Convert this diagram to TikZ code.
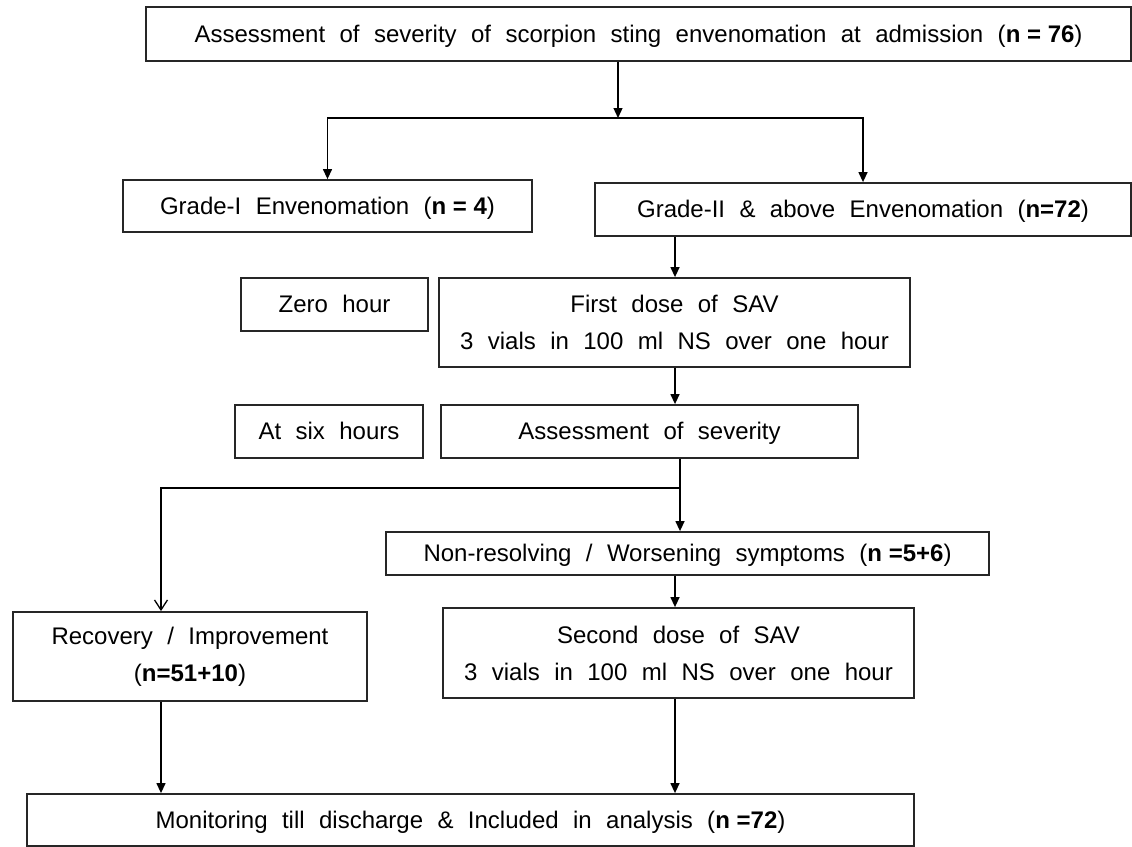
\documentclass[tikz,border=0pt]{standalone}
\usepackage{fontspec}
\setmainfont{Liberation Sans}
\usetikzlibrary{arrows.meta}
\newcommand{\flowfont}{\fontsize{24}{37}\selectfont\spaceskip=0.6em\relax}
\newcommand{\nval}[1]{\textbf{\spaceskip=0pt\relax #1}}
\def\boxh{53pt}
\tikzset{
  box/.style={draw=black!85, line width=1.8pt, minimum height=\boxh, inner sep=0pt, align=center, font=\flowfont},
  oneline/.style={text height=17pt, text depth=1pt},
  arr/.style={-{Triangle[length=10pt,width=9pt]}, line width=1.3pt},
  arrv/.style={-{Straight Barb[length=10pt,width=13pt]}, line width=1.3pt}
}

\begin{document}
\begin{tikzpicture}[x=1pt,y=-1pt]
\useasboundingbox (0,0) rectangle (1132,846);

% Boxes
\node[box, oneline, minimum width=985pt, minimum height=54pt] (admit) at (638.5,34) {Assessment of severity of scorpion sting envenomation at admission (\nval{n = 76})};
\node[box, oneline, minimum width=409pt, minimum height=52pt] (grade1) at (327.5,206) {Grade-I Envenomation (\nval{n = 4})};
\node[box, oneline, minimum width=536pt] (grade2) at (863,209.5) {Grade-II \& above Envenomation (\nval{n=72})};
\node[box, oneline, minimum width=187pt] (zero) at (334.5,304.5) {Zero hour};
\node[box, minimum width=471pt, minimum height=89pt] (dose1) at (674.5,322.5) {First dose of SAV\\3 vials in 100 ml NS over one hour};
\node[box, oneline, minimum width=188pt] (six) at (329,431.5) {At six hours};
\node[box, oneline, minimum width=417pt] (assess) at (649.5,431.5) {Assessment of severity};
\node[box, oneline, minimum width=603pt, minimum height=43pt] (worse) at (687.5,553.5) {Non-resolving / Worsening symptoms (\nval{n =5+6})};
\node[box, minimum width=354pt, minimum height=89pt] (recov) at (190,656.5) {Recovery / Improvement\\(\nval{n=51+10})};
\node[box, minimum width=471pt, minimum height=90pt] (dose2) at (678.5,653) {Second dose of SAV\\3 vials in 100 ml NS over one hour};
\node[box, oneline, minimum width=887pt, minimum height=52pt] (monit) at (470.5,820) {Monitoring till discharge \& Included in analysis (\nval{n =72})};

% Connectors
\coordinate (split) at (618,118);
\coordinate (col) at (675,0);
\coordinate (rcol) at (161,0);
\coordinate (branch) at (680,488);
\draw[arr] (admit.south -| split) -- (split);
\draw[arr] (split) -| (grade1.north);
\draw[arr] (split) -| (grade2.north);
\draw[arr] (grade2.south -| col) -- (dose1.north -| col);
\draw[arr] (dose1.south -| col) -- (assess.north -| col);
\draw[line width=1.3pt] (assess.south -| branch) -- (branch);
\draw[arrv] (branch) -| (recov.north -| rcol); % open head
\draw[arr] (branch) -- (worse.north -| branch);
\draw[arr] (worse.south -| col) -- (dose2.north -| col);
\draw[arr] (recov.south -| rcol) -- (monit.north -| rcol);
\draw[arr] (dose2.south -| col) -- (monit.north -| col);

\end{tikzpicture}
\end{document}
